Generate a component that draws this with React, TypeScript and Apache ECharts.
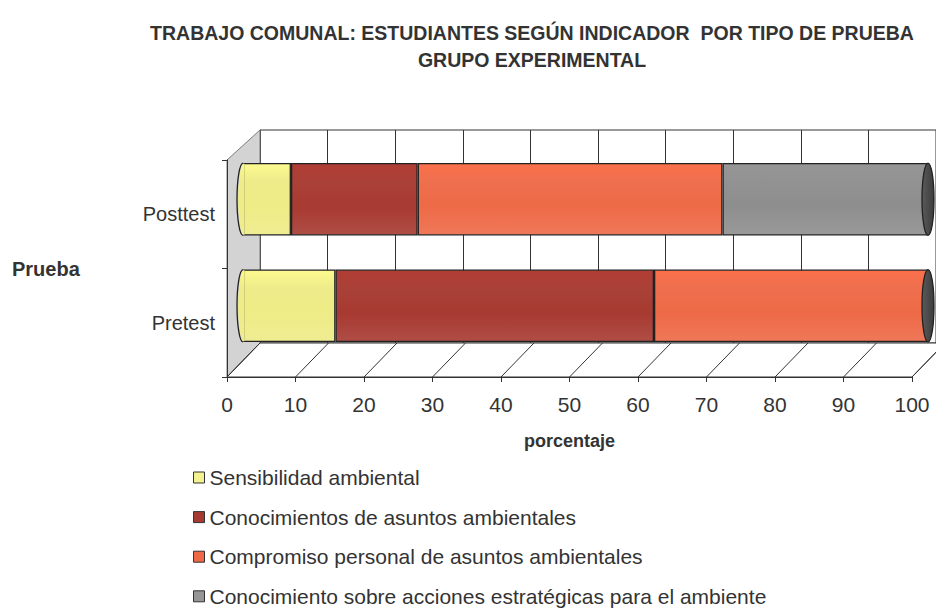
import React, { useEffect, useRef } from 'react';
import * as echarts from 'echarts';

// ---------- data ----------
const categories = ['Pretest', 'Posttest'];
const seriesNames = [
  'Sensibilidad ambiental',
  'Conocimientos de asuntos ambientales',
  'Compromiso personal de asuntos ambientales',
  'Conocimiento sobre acciones estratégicas para el ambiente',
];
const sensibilidad = [13.5, 7];
const conocimientos = [46.5, 18.5];
const compromiso = [40, 44.5];
const estrategicas: (number | null)[] = [null, 30];
const xMin = 0;
const xMax = 100;
const xInterval = 10;
const titleText = 'TRABAJO COMUNAL: ESTUDIANTES SEGÚN INDICADOR  POR TIPO DE PRUEBA\nGRUPO EXPERIMENTAL';
const yAxisTitle = 'Prueba';
const xAxisTitle = 'porcentaje';

// ---------- style ----------
const COLORS = ['#EEEC86', '#A73A31', '#EE6A47', '#8E8E8E'];
const LEGEND_COLORS = ['#F4F28E', '#A63A33', '#EF6946', '#969696'];
const FONT = '"Liberation Sans", Arial, sans-serif';
const TXT = '#333333';

const FRONT = { left: 227, top: 160, width: 685, height: 217 };
const BACK = { left: 260, top: 130, width: 685, height: 213 };
const MID = { left: 243, top: 146, width: 685, height: 213 };

function shade(base: string) {
  return new echarts.graphic.LinearGradient(0, 0, 0, 1, [
    { offset: 0, color: echarts.color.lift(base, -0.06) },
    { offset: 0.25, color: echarts.color.lift(base, 0.04) },
    { offset: 0.6, color: base },
    { offset: 1, color: echarts.color.lift(base, 0.1) },
  ]);
}

export default function App() {
  const ref = useRef<HTMLDivElement>(null);

  useEffect(() => {
    if (!ref.current) return;
    const chart = echarts.init(ref.current, null, { renderer: 'svg' });

    const dataSets = [sensibilidad, conocimientos, compromiso, estrategicas];
    const totals = categories.map((_, i) =>
      dataSets.reduce((s, arr) => s + (arr[i] == null ? 0 : (arr[i] as number)), 0)
    );

    // decorative 3D floor / side wall
    const graphics: any[] = [];
    graphics.push({
      type: 'polygon',
      z: 1,
      shape: {
        points: [
          [FRONT.left, FRONT.top],
          [BACK.left, BACK.top],
          [BACK.left, BACK.top + BACK.height],
          [FRONT.left, FRONT.top + FRONT.height],
        ],
      },
      style: { fill: '#D3D3D3', stroke: '#7a7a7a', lineWidth: 1 },
    });
    graphics.push({
      type: 'polygon',
      z: 1,
      shape: {
        points: [
          [FRONT.left, FRONT.top + FRONT.height],
          [BACK.left, BACK.top + BACK.height],
          [BACK.left + BACK.width, BACK.top + BACK.height],
          [FRONT.left + FRONT.width, FRONT.top + FRONT.height],
        ],
      },
      style: { fill: '#ffffff', stroke: '#333', lineWidth: 1 },
    });
    for (let v = xMin; v <= xMax; v += xInterval) {
      const t = (v - xMin) / (xMax - xMin);
      graphics.push({
        type: 'line',
        z: 1,
        shape: {
          x1: FRONT.left + t * FRONT.width,
          y1: FRONT.top + FRONT.height,
          x2: BACK.left + t * BACK.width,
          y2: BACK.top + BACK.height,
        },
        style: { stroke: '#333', lineWidth: 1 },
      });
    }
    graphics.push({
      type: 'text',
      left: 12,
      top: 259,
      style: { text: yAxisTitle, font: `bold 20px ${FONT}`, fill: TXT },
    });

    const barSeries = dataSets.map((arr, k) => ({
      name: seriesNames[k],
      type: 'bar',
      stack: 'total',
      xAxisIndex: 2,
      yAxisIndex: 2,
      barWidth: '68%',
      z: 3,
      data: arr.map((v) => (v == null ? null : v)),
      itemStyle: {
        color: shade(COLORS[k]),
        borderColor: '#222',
        borderWidth: 1.3,
      },
    }));

    const capSeries = {
      type: 'custom',
      xAxisIndex: 2,
      yAxisIndex: 2,
      z: 4,
      silent: true,
      encode: { x: 0, y: 1 },
      data: categories.map((c, i) => [totals[i], c]),
      renderItem: (params: any, api: any) => {
        const cat = api.value(1);
        const p0 = api.coord([xMin, cat]);
        const p1 = api.coord([api.value(0), cat]);
        const h = api.size([0, 1])[1] * 0.68;
        const top = p0[1] - h / 2;
        const bot = p0[1] + h / 2;
        const x0 = p0[0];
        const x1 = p1[0];
        return {
          type: 'group',
          children: [
            {
              type: 'path',
              shape: {
                pathData: `M ${x0 + 1.5} ${top + 0.6} L ${x0} ${top + 0.6} A 6 ${h / 2} 0 0 0 ${x0} ${bot - 0.6} L ${x0 + 1.5} ${bot - 0.6} Z`,
              },
              style: { fill: shade(COLORS[0]), stroke: null },
            },
            {
              type: 'path',
              shape: { pathData: `M ${x0} ${top} A 6 ${h / 2} 0 0 0 ${x0} ${bot}` },
              style: { fill: null, stroke: '#222', lineWidth: 1.3 },
            },
            {
              type: 'ellipse',
              shape: { cx: x1, cy: p0[1], rx: 6, ry: h / 2 },
              style: {
                fill: new echarts.graphic.LinearGradient(0, 0, 1, 0, [
                  { offset: 0, color: '#5a5a5a' },
                  { offset: 1, color: '#3c3c3c' },
                ]),
                stroke: '#222',
                lineWidth: 1.3,
              },
            },
          ],
        };
      },
    };

    const option: any = {
      animation: false,
      backgroundColor: '#ffffff',
      textStyle: { fontFamily: FONT },
      title: {
        text: titleText,
        left: 527,
        top: 14,
        textAlign: 'center',
        textStyle: {
          fontFamily: FONT,
          fontSize: 19.5,
          fontWeight: 'bold',
          color: TXT,
          lineHeight: 27,
        },
      },
      legend: {
        orient: 'vertical',
        left: 193,
        top: 467,
        padding: 0,
        itemWidth: 11,
        itemHeight: 11,
        itemGap: 18.6,
        icon: 'rect',
        textStyle: { fontFamily: FONT, fontSize: 21, color: TXT },
        data: seriesNames.map((n, k) => ({
          name: n,
          itemStyle: { color: LEGEND_COLORS[k], borderColor: '#333', borderWidth: 1 },
        })),
      },
      grid: [
        { ...BACK, show: true, backgroundColor: '#fff', borderColor: '#333', borderWidth: 1, z: 0 },
        { ...FRONT },
        { ...MID },
      ],
      xAxis: [
        {
          gridIndex: 0,
          type: 'value',
          min: xMin,
          max: xMax,
          interval: xInterval,
          axisLine: { show: false },
          axisTick: { show: false },
          axisLabel: { show: false },
          splitLine: { show: true, lineStyle: { color: '#333', width: 1 } },
        },
        {
          gridIndex: 1,
          type: 'value',
          min: xMin,
          max: xMax,
          interval: xInterval,
          z: 5,
          axisLine: { show: true, lineStyle: { color: '#333', width: 1 } },
          axisTick: { show: true, length: 5, lineStyle: { color: '#333' } },
          axisLabel: { fontFamily: FONT, fontSize: 21, color: TXT, margin: 17 },
          splitLine: { show: false },
          name: xAxisTitle,
          nameLocation: 'middle',
          nameGap: 55,
          nameTextStyle: { fontFamily: FONT, fontSize: 18, fontWeight: 'bold', color: TXT },
        },
        {
          gridIndex: 2,
          type: 'value',
          min: xMin,
          max: xMax,
          show: false,
        },
      ],
      yAxis: [
        {
          gridIndex: 0,
          type: 'category',
          data: categories,
          show: false,
        },
        {
          gridIndex: 1,
          type: 'category',
          data: categories,
          z: 5,
          axisLine: { show: true, lineStyle: { color: '#333', width: 1 } },
          axisTick: { show: true, length: 5, lineStyle: { color: '#333' } },
          axisLabel: { fontFamily: FONT, fontSize: 20, color: TXT, margin: 12 },
          splitLine: { show: false },
        },
        {
          gridIndex: 2,
          type: 'category',
          data: categories,
          show: false,
        },
      ],
      graphic: graphics,
      series: [...barSeries, capSeries],
    };

    chart.setOption(option);
    return () => chart.dispose();
  }, []);

  return (
    <div
      ref={ref}
      style={{ position: 'fixed', left: 0, top: 0, width: 936, height: 610, background: '#fff' }}
    />
  );
}
